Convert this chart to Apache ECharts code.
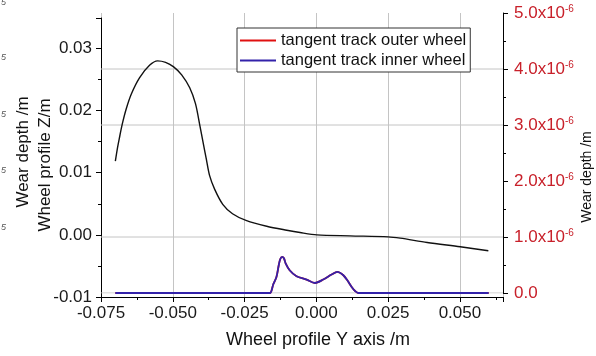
<!DOCTYPE html>
<html>
<head>
<meta charset="utf-8">
<script src="https://cdn.jsdelivr.net/npm/echarts@6/dist/echarts.min.js"></script>
<style>html,body{margin:0;padding:0;background:#fff}#c{width:596px;height:356px}</style>
</head>
<body>
<div id="c"></div>
<script>
// ---- data ----
const profileY = [-0.0700,-0.0693,-0.0686,-0.0676,-0.0662,-0.0644,-0.0616,-0.0581,-0.0553,-0.0525,-0.0497,-0.0469,-0.0441,-0.0421,-0.0405,-0.0395,-0.0383,-0.0372,-0.0354,-0.0326,-0.0292,-0.0243,-0.0173,-0.0103,-0.0057,0.0002,0.0117,0.0250,0.0292,0.0386,0.0501,0.0599];
const profileZ = [0.01186,0.01389,0.01558,0.01782,0.02030,0.02271,0.02527,0.02728,0.02800,0.02776,0.02704,0.02575,0.02367,0.02111,0.01742,0.01502,0.01213,0.00957,0.00732,0.00492,0.00340,0.00228,0.00139,0.00075,0.00038,0.00000,-0.00016,-0.00032,-0.00053,-0.00122,-0.00192,-0.00256];
const wearY = [-0.0700,-0.0169,-0.0160,-0.0150,-0.0139,-0.0131,-0.0126,-0.0119,-0.0113,-0.0107,-0.0093,-0.0069,-0.0034,-0.0005,0.0024,0.0053,0.0073,0.0094,0.0110,0.0123,0.0134,0.0146,0.0600];
const innerWear = [0,0,0.003e-6,0.156e-6,0.286e-6,0.496e-6,0.603e-6,0.644e-6,0.621e-6,0.531e-6,0.406e-6,0.299e-6,0.240e-6,0.179e-6,0.240e-6,0.329e-6,0.379e-6,0.317e-6,0.209e-6,0.107e-6,0.040e-6,0,0];
const outerWear = [0,0,0.003e-6,0.156e-6,0.286e-6,0.496e-6,0.603e-6,0.644e-6,0.621e-6,0.531e-6,0.406e-6,0.299e-6,0.240e-6,0.179e-6,0.240e-6,0.329e-6,0.379e-6,0.317e-6,0.209e-6,0.107e-6,0.040e-6,0,0];
const seriesNames = ['tangent track outer wheel','tangent track inner wheel'];
const xRange = [-0.075, 0.065];
const xInterval = 0.025;
const leftRange = [-0.01, 0.0349];
const leftInterval = 0.01;
const rightRange = [0, 5e-6];
const rightInterval = 1e-6;
const rightGridValues = [0, 1e-6, 3e-6, 4e-6];
const xTitle = 'Wheel profile Y axis /m';
const leftTitle = 'Wheel profile Z/m';
const rightTitle = 'Wear depth /m';
const cutTitle = 'Wear depth /m';

const zip = (a, b) => a.map((v, i) => [v, b[i]]);
const FONT = 'Liberation Sans, Arial, sans-serif';
const clean = v => (Math.abs(v) < 1e-12 ? 0 : v);

const chart = echarts.init(document.getElementById('c'), null, {renderer: 'canvas'});
const grid = [
  {left: 101, width: 402, top: 18, height: 279},
  {left: 101, width: 402, top: 13, height: 280},
  {left: 101, width: 402, top: 13, height: 284}
];
const gridLineSeries = rightGridValues.map(v => ({
  type: 'line', xAxisIndex: 1, yAxisIndex: 1, silent: true, symbol: 'none', z: 1,
  data: [[xRange[0], v], [xRange[1], v]],
  lineStyle: {color: '#c4c4c4', width: 1}, tooltip: {show: false}
}));
const option = {
  backgroundColor: '#fff',
  animation: false,
  grid: grid,
  xAxis: [
    {type: 'value', gridIndex: 0, min: xRange[0], max: xRange[1], interval: xInterval,
     axisLine: {show: true, onZero: false, lineStyle: {color: '#000', width: 1}},
     axisTick: {show: true, length: 5, lineStyle: {color: '#000'}},
     minorTick: {show: true, splitNumber: 2, length: 3, lineStyle: {color: '#000'}},
     splitLine: {show: false},
     axisLabel: {margin: 8, color: '#1a1a1a', fontFamily: FONT, fontSize: 17, showMaxLabel: false,
       formatter: v => clean(v).toFixed(3)}},
    {type: 'value', gridIndex: 1, min: xRange[0], max: xRange[1], show: false},
    {type: 'value', gridIndex: 2, min: xRange[0], max: xRange[1], interval: xInterval,
     axisLine: {show: false}, axisTick: {show: false}, axisLabel: {show: false},
     splitLine: {show: true, lineStyle: {color: '#c4c4c4', width: 1}}}
  ],
  yAxis: [
    {type: 'value', gridIndex: 0, min: leftRange[0], max: leftRange[1], interval: leftInterval,
     axisLine: {show: true, onZero: false, lineStyle: {color: '#000', width: 1}},
     axisTick: {show: true, length: 5, lineStyle: {color: '#000'}},
     minorTick: {show: true, splitNumber: 2, length: 3, lineStyle: {color: '#000'}},
     splitLine: {show: false},
     axisLabel: {margin: 9, color: '#1a1a1a', fontFamily: FONT, fontSize: 17, showMaxLabel: false,
       formatter: v => clean(v).toFixed(2)}},
    {type: 'value', gridIndex: 1, position: 'right', min: rightRange[0], max: rightRange[1], interval: rightInterval,
     axisLine: {show: true, onZero: false, lineStyle: {color: '#000', width: 1}},
     axisTick: {show: true, length: 5, lineStyle: {color: '#000'}},
     minorTick: {show: true, splitNumber: 2, length: 3, lineStyle: {color: '#000'}},
     splitLine: {show: false},
     axisLabel: {margin: 11, color: '#c8202a', fontFamily: FONT, fontSize: 17,
       formatter: v => { v = clean(v); if (v === 0) return '{n|0.0}'; return '{n|' + (v / 1e-6).toFixed(1) + 'x10}{s|-6}'; },
       rich: {n: {fontSize: 17, fontFamily: FONT, color: '#c8202a'},
              s: {fontSize: 10, fontFamily: FONT, color: '#c8202a', verticalAlign: 'top', padding: [0, 0, 8, 0]}}}},
    {type: 'value', gridIndex: 2, min: 0, max: 1, show: false}
  ],
  legend: {
    data: seriesNames, orient: 'vertical', left: 237, top: 28,
    icon: 'rect', itemWidth: 36, itemHeight: 2, itemGap: 3,
    padding: [4, 4, 3, 3],
    backgroundColor: '#fff', borderColor: '#333', borderWidth: 1, borderRadius: 0,
    textStyle: {fontFamily: FONT, fontSize: 16.5, color: '#111', lineHeight: 17, padding: [0, 0, 0, 0]}
  },
  series: [
    ...gridLineSeries,
    {name: 'profile', type: 'line', xAxisIndex: 0, yAxisIndex: 0, data: zip(profileY, profileZ),
     smooth: 0.3, symbol: 'none', lineStyle: {color: '#111', width: 1.4}, z: 3},
    {name: seriesNames[0], type: 'line', xAxisIndex: 1, yAxisIndex: 1, data: zip(wearY, outerWear),
     smooth: 0.3, symbol: 'none', color: '#e01010', lineStyle: {color: '#e01010', width: 1.8}, z: 3},
    {name: seriesNames[1], type: 'line', xAxisIndex: 1, yAxisIndex: 1, data: zip(wearY, innerWear),
     smooth: 0.3, symbol: 'none', color: '#3322aa', lineStyle: {color: '#3322aa', width: 1.8}, z: 4}
  ],
  graphic: [
    {type: 'text', x: 318, y: 340, style: {text: xTitle, font: '18px ' + FONT, fill: '#111', align: 'center', verticalAlign: 'middle'}},
    {type: 'text', x: 45, y: 165, rotation: Math.PI / 2, style: {text: leftTitle, font: '17px ' + FONT, fill: '#111', align: 'center', verticalAlign: 'middle'}},
    {type: 'text', x: 23, y: 152, rotation: Math.PI / 2, style: {text: cutTitle, font: '17px ' + FONT, fill: '#111', align: 'center', verticalAlign: 'middle'}},
    {type: 'text', x: 587, y: 177, rotation: Math.PI / 2, style: {text: rightTitle, font: '14px ' + FONT, fill: '#111', align: 'center', verticalAlign: 'middle'}},
    {type: 'text', x: 1, y: 2, style: {text: '5', font: 'italic 9px ' + FONT, fill: '#555', verticalAlign: 'middle'}},
    {type: 'text', x: 1, y: 57, style: {text: '5', font: 'italic 9px ' + FONT, fill: '#555', verticalAlign: 'middle'}},
    {type: 'text', x: 1, y: 114, style: {text: '5', font: 'italic 9px ' + FONT, fill: '#555', verticalAlign: 'middle'}},
    {type: 'text', x: 1, y: 170, style: {text: '5', font: 'italic 9px ' + FONT, fill: '#555', verticalAlign: 'middle'}},
    {type: 'text', x: 1, y: 227, style: {text: '5', font: 'italic 9px ' + FONT, fill: '#555', verticalAlign: 'middle'}}
  ]
};
chart.setOption(option);
</script>
</body>
</html>
